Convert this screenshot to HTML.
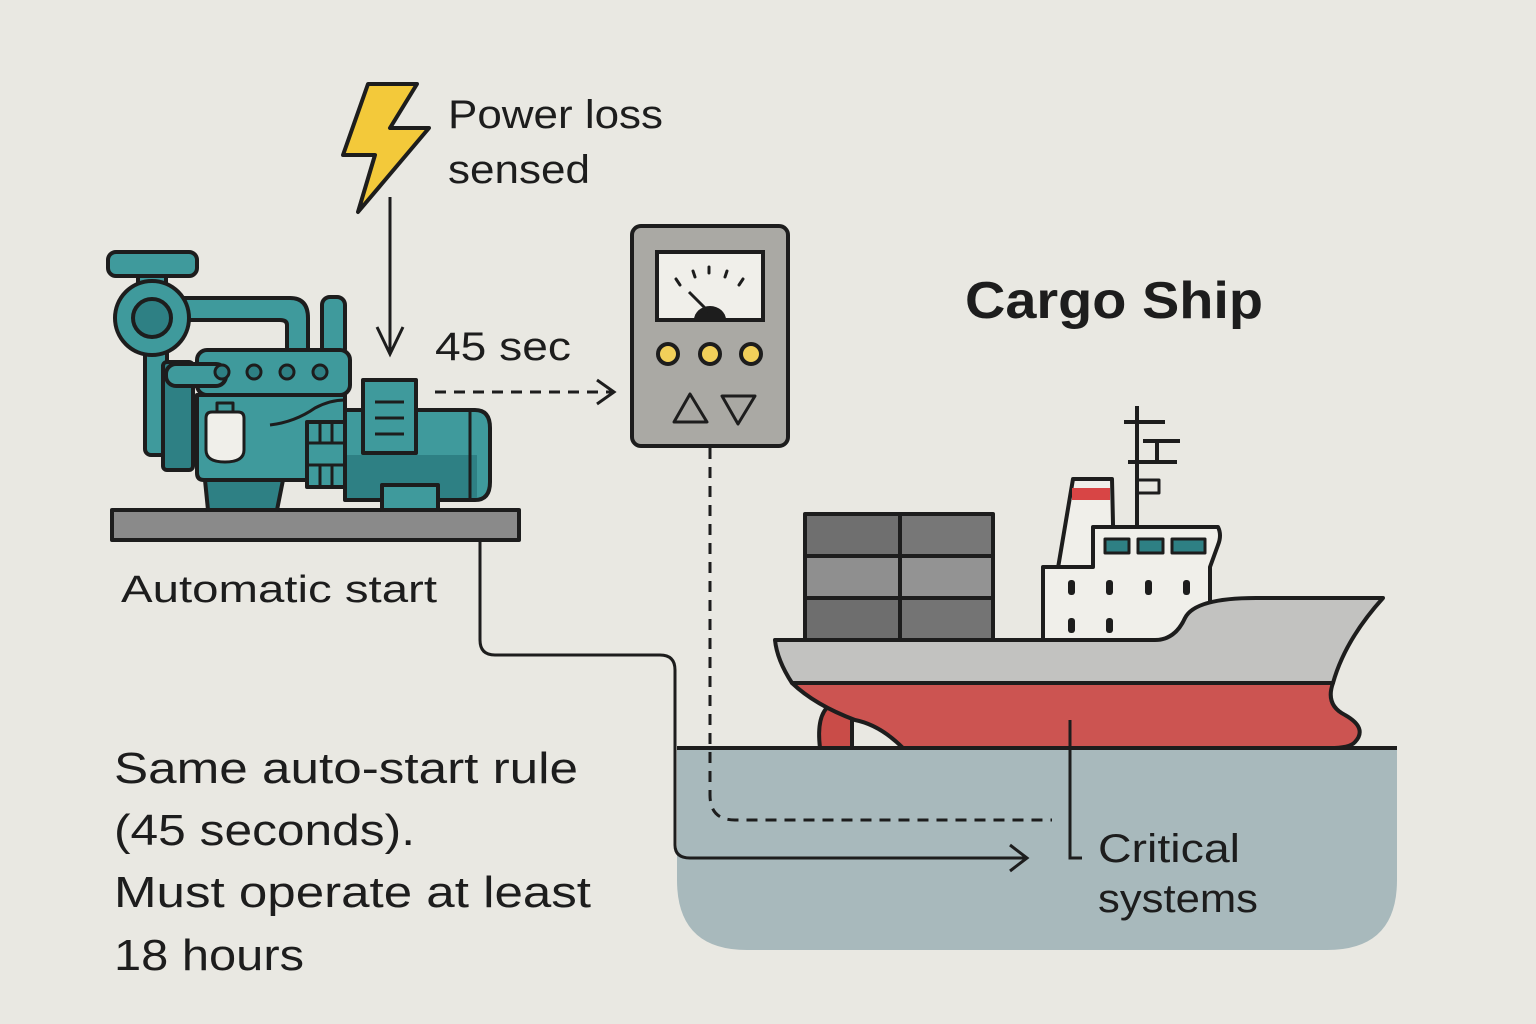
<!DOCTYPE html>
<html><head><meta charset="utf-8"><style>
html,body{margin:0;padding:0;background:#e9e8e2;}
svg{display:block}
text{font-family:"Liberation Sans",sans-serif;fill:#1d1d1d}
</style></head><body>
<svg width="1536" height="1024" viewBox="0 0 1536 1024" xmlns="http://www.w3.org/2000/svg">
<rect width="1536" height="1024" fill="#e9e8e2"/>

<path d="M677 748 H1397 V880 Q1397 950 1327 950 H747 Q677 950 677 880 Z" fill="#a8b9bc"/>

<g stroke="#1d1d1d" stroke-width="4" stroke-linejoin="round">
 <rect x="805" y="514" width="95" height="42" fill="#6f6f6f"/>
 <rect x="900" y="514" width="93" height="42" fill="#777"/>
 <rect x="805" y="556" width="95" height="42" fill="#8f8f8f"/>
 <rect x="900" y="556" width="93" height="42" fill="#939393"/>
 <rect x="805" y="598" width="95" height="42" fill="#6e6e6e"/>
 <rect x="900" y="598" width="93" height="42" fill="#747474"/>
 <path d="M1058 568 L1073 479 H1112 L1114 568 Z" fill="#f0efea"/>
 <rect x="1072" y="488" width="38" height="12" fill="#d84545" stroke="none"/>
 <path d="M1137 406 V528 M1124 422 H1165 M1143 441 H1180 M1128 462 H1177 M1157 441 V462" fill="none" stroke-width="4"/>
 <rect x="1137" y="480" width="22" height="13" fill="none" stroke-width="3"/>
 <path d="M1043 567 H1093 V527 H1218 Q1222 535 1218 545 L1210 567 V640 H1043 Z" fill="#f0efea"/>
 <rect x="1105" y="539" width="24" height="14" fill="#2e8084" stroke-width="3"/>
 <rect x="1138" y="539" width="25" height="14" fill="#2e8084" stroke-width="3"/>
 <rect x="1172" y="539" width="33" height="14" fill="#2e8084" stroke-width="3"/>
</g>
<g fill="#1d1d1d">
 <rect x="1068" y="580" width="7" height="15" rx="3"/><rect x="1106" y="580" width="7" height="15" rx="3"/>
 <rect x="1145" y="580" width="7" height="15" rx="3"/><rect x="1183" y="580" width="7" height="15" rx="3"/>
 <rect x="1068" y="618" width="7" height="15" rx="3"/><rect x="1106" y="618" width="7" height="15" rx="3"/>
</g>
<path d="M820 748 Q816 715 830 705 L852 712 V748 Z" fill="#c94c48" stroke="#1d1d1d" stroke-width="4"/>
<path d="M775 640 H1155 Q1175 640 1185 618 Q1195 598 1256 598 H1383 Q1345 640 1333 683 H792 Q777 660 775 640 Z" fill="#c2c2c0" stroke="#1d1d1d" stroke-width="4" stroke-linejoin="round"/>
<path d="M792 683 H1333 Q1325 705 1345 715 Q1368 728 1355 742 Q1350 748 1330 748 H903 Q880 725 855 720 Q815 705 792 683 Z" fill="#cc5451" stroke="#1d1d1d" stroke-width="4" stroke-linejoin="round"/>
<line x1="677" y1="748" x2="1397" y2="748" stroke="#1d1d1d" stroke-width="4"/>

<g stroke="#1d1d1d" stroke-width="4" stroke-linejoin="round">
 <rect x="112" y="510" width="407" height="30" fill="#8a8a8a"/>
 <path d="M205 480 H283 L277 510 H208 Z" fill="#2e8084"/>
 <rect x="108" y="252" width="89" height="24" rx="8" fill="#3f9a9c"/>
 <rect x="138" y="276" width="28" height="14" fill="#3f9a9c"/>
 <path d="M180 298 H290 Q308 298 308 318 V350 H287 V325 Q287 320 280 320 H180 Z" fill="#3f9a9c"/>
 <rect x="322" y="297" width="23" height="60" rx="8" fill="#3f9a9c"/>
 <rect x="145" y="340" width="22" height="115" rx="6" fill="#3f9a9c"/>
 <circle cx="152" cy="318" r="37" fill="#3f9a9c"/>
 <circle cx="152" cy="318" r="19" fill="#2e8084"/>
 <rect x="163" y="362" width="30" height="108" rx="4" fill="#2e8084"/>
 <rect x="197" y="350" width="153" height="45" rx="10" fill="#3f9a9c"/>
 <path d="M197 395 H345 V480 H204 Q197 480 197 473 Z" fill="#3f9a9c"/>
 <path d="M270 425 Q295 422 315 408 Q330 400 345 400" fill="none" stroke-width="3"/>
 <rect x="166" y="364" width="60" height="22" rx="10" fill="#3f9a9c"/>
 <g fill="#2e8084" stroke-width="3"><circle cx="222" cy="372" r="7"/><circle cx="254" cy="372" r="7"/><circle cx="287" cy="372" r="7"/><circle cx="320" cy="372" r="7"/></g>
 <rect x="217" y="403" width="16" height="11" fill="#3f9a9c" stroke-width="3"/>
 <path d="M206 418 Q206 412 212 412 H238 Q244 412 244 418 V450 Q244 462 225 462 Q206 462 206 450 Z" fill="#f0efea" stroke-width="3"/>
 <path d="M345 410 H475 Q490 410 490 428 V482 Q490 500 475 500 H345 Z" fill="#3f9a9c"/>
 <rect x="347" y="455" width="130" height="43" fill="#2e8084" stroke="none"/>
 <line x1="470" y1="412" x2="470" y2="498" stroke-width="3"/>
 <rect x="307" y="422" width="38" height="65" fill="#3f9a9c"/>
 <path d="M307 443 H345 M307 465 H345 M320 422 V443 M332 422 V443 M320 465 V487 M332 465 V487" fill="none" stroke-width="3"/>
 <rect x="363" y="380" width="53" height="73" fill="#3f9a9c"/>
 <path d="M375 402 H404 M375 418 H404 M375 434 H404" stroke-width="3"/>
 <rect x="382" y="485" width="56" height="25" fill="#3f9a9c"/>
</g>

<path d="M368 84 H417 L390 128 H429 L358 212 L375 155 H343 Z" fill="#f3c93a" stroke="#1d1d1d" stroke-width="4" stroke-linejoin="round"/>
<line x1="390" y1="197" x2="390" y2="354" stroke="#1d1d1d" stroke-width="3"/>
<path d="M377 327 L390 354 L403 327" fill="none" stroke="#1d1d1d" stroke-width="3"/>

<line x1="435" y1="392" x2="612" y2="392" stroke="#1d1d1d" stroke-width="3" stroke-dasharray="11 8"/>
<path d="M597 380 L614 392 L597 404" fill="none" stroke="#1d1d1d" stroke-width="3"/>

<rect x="632" y="226" width="156" height="220" rx="9" fill="#aaa9a4" stroke="#1d1d1d" stroke-width="4"/>
<rect x="657" y="252" width="106" height="68" fill="#f0efea" stroke="#1d1d1d" stroke-width="4"/>
<path d="M694 320 A16 14 0 0 1 726 320 Z" fill="#1d1d1d"/>
<line x1="709" y1="312" x2="689" y2="292" stroke="#1d1d1d" stroke-width="3"/>
<g stroke="#1d1d1d" stroke-width="3" stroke-linecap="round"><line x1="676" y1="279" x2="680" y2="285"/><line x1="693" y1="271" x2="695" y2="277"/><line x1="709" y1="267" x2="709" y2="273"/><line x1="727" y1="271" x2="725" y2="277"/><line x1="743" y1="279" x2="739" y2="285"/></g>
<g fill="#f2d05a" stroke="#1d1d1d" stroke-width="4"><circle cx="668" cy="354" r="10"/><circle cx="710" cy="354" r="10"/><circle cx="751" cy="354" r="10"/></g>
<path d="M690 394 L707 422 H674 Z" fill="#a9a8a3" stroke="#1d1d1d" stroke-width="3" stroke-linejoin="round"/>
<path d="M722 396 H755 L738 424 Z" fill="#a9a8a3" stroke="#1d1d1d" stroke-width="3" stroke-linejoin="round"/>

<path d="M710 448 V795 Q710 820 735 820 H1052" fill="none" stroke="#1d1d1d" stroke-width="3" stroke-dasharray="11 8"/>
<path d="M480 540 V640 Q480 655 495 655 H660 Q675 655 675 670 V845 Q675 858 690 858 H1025" fill="none" stroke="#1d1d1d" stroke-width="3"/>
<path d="M1010 845 L1027 858 L1010 871" fill="none" stroke="#1d1d1d" stroke-width="3"/>
<path d="M1070 720 V858 H1082" fill="none" stroke="#1d1d1d" stroke-width="3"/>

<g lengthAdjust="spacingAndGlyphs">
<text x="448" y="128" font-size="40" textLength="215" lengthAdjust="spacingAndGlyphs">Power loss</text>
<text x="448" y="183" font-size="40" textLength="142" lengthAdjust="spacingAndGlyphs">sensed</text>
<text x="435" y="360" font-size="40" textLength="136" lengthAdjust="spacingAndGlyphs">45 sec</text>
<text x="965" y="318" font-size="52" font-weight="bold" textLength="298" lengthAdjust="spacingAndGlyphs">Cargo Ship</text>
<text x="121" y="602" font-size="38" textLength="316" lengthAdjust="spacingAndGlyphs">Automatic start</text>
<text x="114" y="783" font-size="44" textLength="464" lengthAdjust="spacingAndGlyphs">Same auto-start rule</text>
<text x="114" y="845" font-size="44" textLength="301" lengthAdjust="spacingAndGlyphs">(45 seconds).</text>
<text x="114" y="907" font-size="44" textLength="477" lengthAdjust="spacingAndGlyphs">Must operate at least</text>
<text x="114" y="970" font-size="44" textLength="190" lengthAdjust="spacingAndGlyphs">18 hours</text>
<text x="1098" y="862" font-size="40" textLength="142" lengthAdjust="spacingAndGlyphs">Critical</text>
<text x="1098" y="912" font-size="40" textLength="160" lengthAdjust="spacingAndGlyphs">systems</text>
</g>
</svg>
</body></html>
